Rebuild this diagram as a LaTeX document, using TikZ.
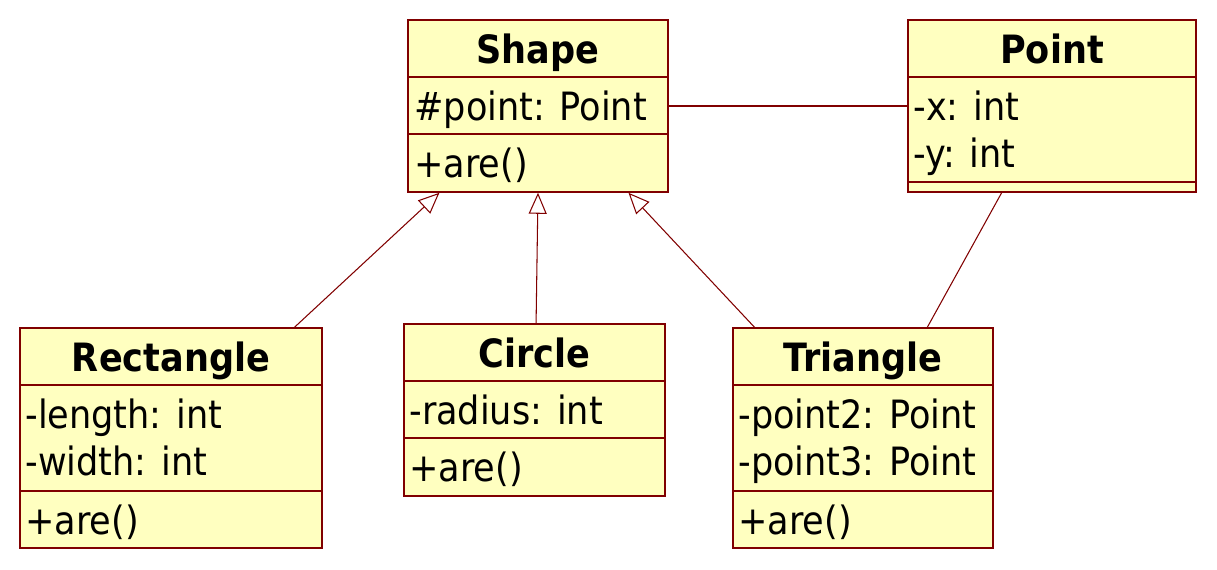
\documentclass[tikz,border=0pt]{standalone}
\usepackage{fontspec}
\setmainfont{DejaVu Sans Condensed}
\usetikzlibrary{arrows.meta,calc}
\definecolor{umlfill}{RGB}{255,255,192}
\definecolor{umlline}{RGB}{128,0,0}
\tikzset{
  classbox/.style={draw=umlline, fill=umlfill, line width=0.9pt, inner sep=0pt},
  divider/.style={draw=umlline, line width=0.9pt},
  classname/.style={anchor=base, inner sep=0pt, font=\bfseries\fontsize{22.2}{26}\selectfont},
  member/.style={anchor=base west, inner sep=0pt, font=\fontsize{22.2}{26}\selectfont},
  inherit/.style={draw=umlline, line width=0.6pt, -{Triangle[open, length=0.42cm, width=0.36cm]}},
  assoc/.style={draw=umlline, line width=0.6pt},
}
\begin{document}
\begin{tikzpicture}[x=0.02cm, y=-0.02cm]
    \useasboundingbox (0,0) rectangle (1217,569);
    % class boxes
    \node[classbox, minimum width=5.2cm, minimum height=3.44cm] (shape) at (538,106) {};
    \node[classbox, minimum width=5.76cm, minimum height=3.44cm] (point) at (1052,106) {};
    \node[classbox, minimum width=6.04cm, minimum height=4.4cm] (rectangle) at (171,438) {};
    \node[classbox, minimum width=5.22cm, minimum height=3.44cm] (circle) at (534.5,410) {};
    \node[classbox, minimum width=5.2cm, minimum height=4.4cm] (triangle) at (863,438) {};
    % Shape
    \node[classname] (shapename) at (538,63) {Shape};
    \draw[divider] (408,77) -- (668,77);
    \node[member] (shapepoint) at (414,120) {\#point: Point};
    \draw[divider] (408,134) -- (668,134);
    \node[member] (shapeare) at (414,177) {+are()};
    % Point
    \node[classname] (pointname) at (1052,63) {Point};
    \draw[divider] (908,77) -- (1196,77);
    \node[member] (pointx) at (913,120) {-x: int};
    \node[member] (pointy) at (913,167) {-y: int};
    \draw[divider] (908,182) -- (1196,182);
    % Rectangle
    \node[classname] (rectname) at (171,371) {Rectangle};
    \draw[divider] (20,385) -- (322,385);
    \node[member] (rectlength) at (25,428) {-length: int};
    \node[member] (rectwidth) at (25,475) {-width: int};
    \draw[divider] (20,491) -- (322,491);
    \node[member] (rectare) at (25,534) {+are()};
    % Circle
    \node[classname] (circname) at (534.5,367) {Circle};
    \draw[divider] (404,381) -- (665,381);
    \node[member] (circradius) at (409,424) {-radius: int};
    \draw[divider] (404,438) -- (665,438);
    \node[member] (circare) at (409,481) {+are()};
    % Triangle
    \node[classname] (triname) at (863,371) {Triangle};
    \draw[divider] (733,385) -- (993,385);
    \node[member] (tripoint2) at (738,428) {-point2: Point};
    \node[member] (tripoint3) at (738,475) {-point3: Point};
    \draw[divider] (733,491) -- (993,491);
    \node[member] (triare) at (738,534) {+are()};
    % connectors
    \draw[assoc] (shape.east) -- (point.west);
    \draw[assoc] ($(point.south west)!0.326!(point.south east)$) -- ($(triangle.north west)!0.746!(triangle.north east)$);
    \draw[inherit] ($(rectangle.north west)!0.907!(rectangle.north east)$) -- ($(shape.south west)!0.123!(shape.south east)$);
    \draw[inherit] ($(circle.north west)!0.506!(circle.north east)$) -- ($(shape.south west)!0.5!(shape.south east)$);
    \draw[inherit] ($(triangle.north west)!0.085!(triangle.north east)$) -- ($(shape.south west)!0.846!(shape.south east)$);
\end{tikzpicture}
\end{document}
